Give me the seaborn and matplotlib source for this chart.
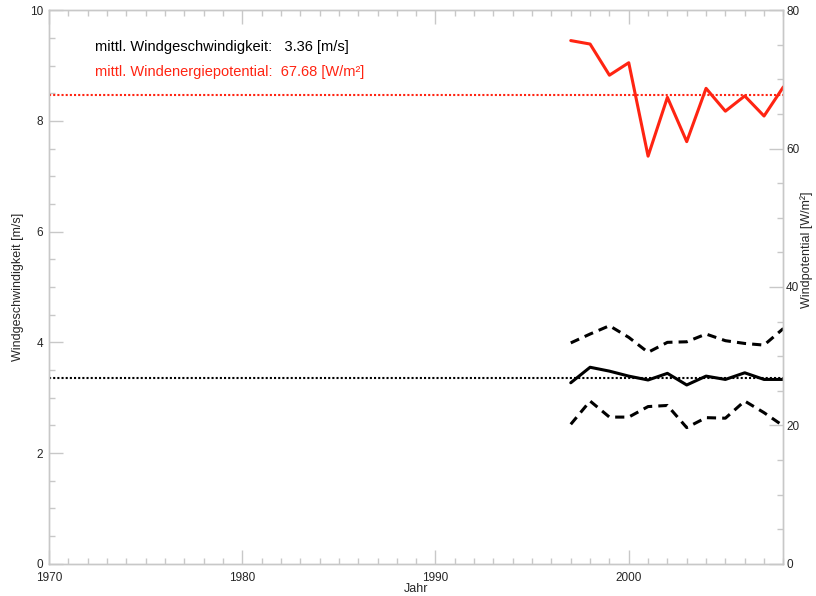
'''Wind speed and wind energy potential per year.'''
import matplotlib
matplotlib.use('Agg')
import matplotlib.pyplot as plt
from matplotlib.ticker import MultipleLocator
import pandas as pd
import seaborn as sns

# data
years = [1997, 1998, 1999, 2000, 2001, 2002, 2003, 2004, 2005, 2006, 2007, 2008]
speed_mean = [3.27, 3.55, 3.48, 3.39, 3.32, 3.44, 3.23, 3.39, 3.33, 3.45, 3.33, 3.33]
speed_upper = [3.99, 4.15, 4.30, 4.09, 3.82, 4.00, 4.01, 4.15, 4.03, 3.98, 3.95, 4.25]
speed_lower = [2.52, 2.94, 2.65, 2.65, 2.84, 2.86, 2.46, 2.64, 2.63, 2.94, 2.73, 2.49]
potential = [75.6, 75.1, 70.6, 72.4, 58.9, 67.4, 61.0, 68.7, 65.4, 67.6, 64.7, 68.9]

avg_speed = 3.36
avg_potential = 67.68

RED = '#ff2412'
GRAY = '#c8c8c8'

sns.set_style('white')
plt.rcParams['font.family'] = ['Liberation Sans', 'DejaVu Sans']

df = pd.DataFrame({
    'Jahr': years,
    'mean': speed_mean,
    'upper': speed_upper,
    'lower': speed_lower,
    'pot': potential,
})

fig = plt.figure(figsize=(8.16, 5.96), dpi=100)
ax = fig.add_axes([0.060, 0.054, 0.900, 0.929])
ax2 = ax.twinx()

# wind speed (left axis)
sns.lineplot(data=df, x='Jahr', y='mean', ax=ax, color='black', lw=2.2)
sns.lineplot(data=df, x='Jahr', y='upper', ax=ax, color='black', lw=2.2,
             linestyle=(0, (3, 2)))
sns.lineplot(data=df, x='Jahr', y='lower', ax=ax, color='black', lw=2.2,
             linestyle=(0, (3, 2)))
ax.axhline(avg_speed, color='black', lw=1.5, linestyle=(0, (1, 1)))

# wind energy potential (right axis)
sns.lineplot(data=df, x='Jahr', y='pot', ax=ax2, color=RED, lw=2.2)
ax2.axhline(avg_potential, color=RED, lw=1.5, linestyle=(0, (1, 1)))

ax.set_xlim(1970, 2008)
ax.set_ylim(0, 10)
ax2.set_ylim(0, 80)

ax.xaxis.set_major_locator(MultipleLocator(10))
ax.xaxis.set_minor_locator(MultipleLocator(1))
ax.yaxis.set_major_locator(MultipleLocator(2))
ax.yaxis.set_minor_locator(MultipleLocator(0.5))
ax2.yaxis.set_major_locator(MultipleLocator(20))
ax2.yaxis.set_minor_locator(MultipleLocator(5))

for a in (ax, ax2):
    for s in a.spines.values():
        s.set_color(GRAY)
        s.set_linewidth(1.0)
    a.tick_params(which='major', direction='in', length=10, width=1,
                  color=GRAY, labelsize=8.5, pad=4)
    a.tick_params(which='minor', direction='in', length=4.5, width=1, color=GRAY)

ax.tick_params(axis='x', which='both', top=True, bottom=True)
ax.tick_params(axis='x', which='major', pad=6)
ax.tick_params(axis='y', which='both', left=True, right=False)
ax2.tick_params(axis='y', which='both', left=False, right=True, pad=2)

ax.set_xlabel('Jahr', fontsize=9, va='center')
ax.set_ylabel('Windgeschwindigkeit [m/s]', fontsize=9, va='center')
ax2.set_ylabel('Windpotential [W/m²]', fontsize=9, va='center')
ax.xaxis.set_label_coords(0.5, -0.045)
ax.yaxis.set_label_coords(-0.042, 0.5)
ax2.yaxis.set_label_coords(1.031, 0.567)

ax.text(0.063, 0.934, f'mittl. Windgeschwindigkeit:   {avg_speed:.2f} [m/s]',
        transform=ax.transAxes, fontsize=10.5, color='black', va='center')
ax.text(0.063, 0.889, f'mittl. Windenergiepotential:  {avg_potential:.2f} [W/m²]',
        transform=ax.transAxes, fontsize=10.5, color=RED, va='center')

fig.savefig('out.png', dpi=100)
